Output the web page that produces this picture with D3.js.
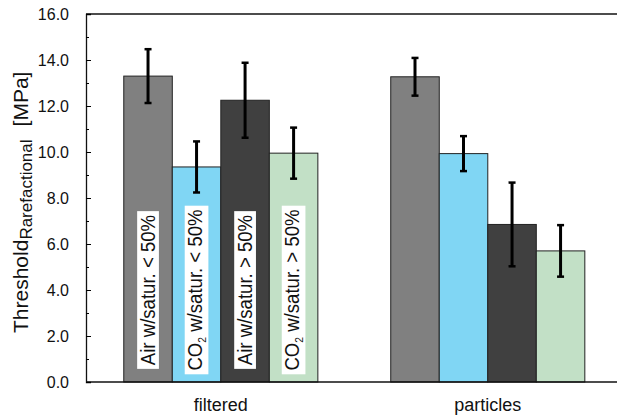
<!DOCTYPE html>
<html>
<head>
<meta charset="utf-8">
<script src="https://cdn.jsdelivr.net/npm/d3@7"></script>
<style>
  body { margin: 0; background: #fff; }
  text { font-family: Arial, "Liberation Sans", sans-serif; fill: #111; }
</style>
</head>
<body>
<div id="chart"></div>
<script>
// chart values
const groups = ["filtered", "particles"];
const series = ["Air w/satur. < 50%", "CO2 w/satur. < 50%", "Air w/satur. > 50%", "CO2 w/satur. > 50%"];
const filteredMeans = [13.3, 9.35, 12.25, 9.95];
const filteredErrors = [1.17, 1.11, 1.63, 1.11];
const particlesMeans = [13.27, 9.93, 6.85, 5.7];
const particlesErrors = [0.82, 0.76, 1.82, 1.12];
const yTicks = [0, 2, 4, 6, 8, 10, 12, 14, 16];
const yMinorTicks = [1, 3, 5, 7, 9, 11, 13, 15];
const colors = ["#808080", "#80d6f4", "#404040", "#c2e0c6"];

let width = 617,
    height = 419,
    margin = { top: 14, left: 86, right: 0, bottom: 37 };

let svg = d3.select("#chart")
    .append("svg")
    .attr("width", width)
    .attr("height", height);

let y = d3.scaleLinear()
    .domain([0, 16])
    .range([height - margin.bottom, margin.top]);

let x0 = d3.scaleBand()
    .domain(groups)
    .range([margin.left, width - margin.right])
    .paddingInner(0.273)
    .paddingOuter(0.131)
    .align(0.54);

let x1 = d3.scaleBand()
    .domain(series)
    .range([0, x0.bandwidth()]);

let color = d3.scaleOrdinal(series, colors);

// one row per bar
let rows = [];
series.forEach((s, i) => {
    rows.push({ group: "filtered", series: s, value: filteredMeans[i], err: filteredErrors[i] });
    rows.push({ group: "particles", series: s, value: particlesMeans[i], err: particlesErrors[i] });
});

// bars
svg.append("g")
    .selectAll("rect")
    .data(rows).enter()
    .append("rect")
    .attr("x", d => x0(d.group) + x1(d.series))
    .attr("y", d => y(d.value))
    .attr("width", x1.bandwidth())
    .attr("height", d => y(0) - y(d.value))
    .attr("fill", d => color(d.series))
    .attr("stroke", "#222")
    .attr("stroke-width", 1);

// error bars
let err = svg.append("g")
    .selectAll("g")
    .data(rows).enter()
    .append("g")
    .attr("transform", d => `translate(${x0(d.group) + x1(d.series) + x1.bandwidth() / 2},0)`);
err.append("line")
    .attr("y1", d => y(d.value - d.err))
    .attr("y2", d => y(d.value + d.err))
    .attr("stroke", "#000")
    .attr("stroke-width", 3);
err.selectAll(".cap")
    .data(d => [d.value - d.err, d.value + d.err])
    .enter().append("line")
    .attr("class", "cap")
    .attr("x1", -3.5).attr("x2", 3.5)
    .attr("y1", d => y(d)).attr("y2", d => y(d))
    .attr("stroke", "#000")
    .attr("stroke-width", 2.5);

// series labels inside the filtered bars
let labels = svg.append("g")
    .selectAll("g")
    .data(series).enter()
    .append("g")
    .attr("transform", d => `translate(${x0("filtered") + x1(d) + x1.bandwidth() / 2},290) rotate(-90) scale(0.93,1)`);

labels.each(function (d) {
    let g = d3.select(this);
    let rect = g.append("rect").attr("fill", "#fff");
    let t = g.append("text")
        .attr("text-anchor", "middle")
        .style("font-size", "20px");
    if (d.startsWith("CO2")) {
        t.append("tspan").text("CO");
        t.append("tspan").text("2").style("font-size", "11px").attr("dy", 4);
        t.append("tspan").text(d.slice(3)).attr("dy", -4);
    } else {
        t.text(d);
    }
    let bb = t.node().getBBox();
    t.attr("y", -(bb.y + bb.height / 2));
    rect.attr("x", bb.x - 4)
        .attr("y", -bb.height / 2)
        .attr("width", bb.width + 8)
        .attr("height", bb.height);
});

// frame lines
svg.append("line")
    .attr("x1", margin.left).attr("x2", width)
    .attr("y1", y(16)).attr("y2", y(16))
    .attr("stroke", "#111").attr("stroke-width", 1.3);
svg.append("line")
    .attr("x1", margin.left).attr("x2", width)
    .attr("y1", y(0)).attr("y2", y(0))
    .attr("stroke", "#111").attr("stroke-width", 1.3);

// y axis with inward ticks
let yAxis = svg.append("g")
    .attr("transform", `translate(${margin.left},0)`)
    .call(d3.axisLeft(y).tickValues(yTicks).tickSize(-5).tickPadding(17).tickFormat(d3.format(".1f")));
yAxis.select(".domain").attr("stroke", "#111").attr("stroke-width", 1.3);
yAxis.selectAll("text").style("font-size", "16px").attr("fill", "#111");
svg.append("g")
    .attr("transform", `translate(${margin.left},0)`)
    .call(d3.axisLeft(y).tickValues(yMinorTicks).tickSize(-3).tickFormat(""))
    .select(".domain").remove();

// group labels
svg.append("g")
    .selectAll("text")
    .data(groups).enter()
    .append("text")
    .attr("x", d => x0(d) + x0.bandwidth() / 2)
    .attr("y", 411)
    .attr("text-anchor", "middle")
    .style("font-size", "18px")
    .text(d => d);

// y title
let yTitle = svg.append("text")
    .attr("transform", "translate(27.5,333) rotate(-90)")
    .style("font-size", "21px");
yTitle.append("tspan").text("Threshold");
yTitle.append("tspan").text("Rarefactional").style("font-size", "17px").attr("dy", 4);
yTitle.append("tspan").text("[MPa]").attr("dy", -4).attr("dx", 13);
</script>
</body>
</html>
